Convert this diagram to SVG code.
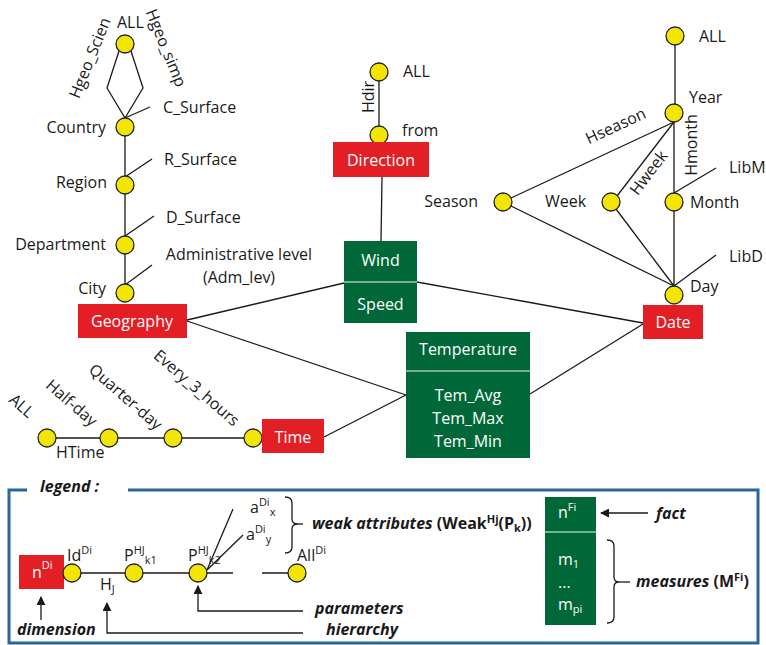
<svg xmlns="http://www.w3.org/2000/svg" width="766" height="645" viewBox="0 0 766 645">
<defs>
<style>
text{font-family:"Open Sans","Liberation Sans",sans-serif;font-size:16px;fill:#1a1a1a}
.w{fill:#fff}
.bi{font-weight:bold;font-style:italic}
.b{font-weight:bold}
.m{text-anchor:middle}
.e{text-anchor:end}
.c{fill:#f2e600;stroke:#222;stroke-width:1.3}
.ln{stroke:#1a1a1a;stroke-width:1.3;fill:none}
.dim{fill:#e31e25}
.fact{fill:#006838}
.div{stroke:#9cc7a8;stroke-width:1.5}
.sup{font-size:11px}
</style>
<marker id="ah" viewBox="0 0 10 10" refX="9" refY="5" markerWidth="9" markerHeight="9" markerUnits="userSpaceOnUse" orient="auto">
<path d="M0,0 L10,5 L0,10 z" fill="#1a1a1a"/>
</marker>
</defs>
<rect width="766" height="645" fill="#fff"/>

<g id="connectors" class="ln">
<polyline points="119,51 107,88 125,118 143,88 131,51"/>
<line x1="125" y1="118" x2="125" y2="293"/>
<line x1="125" y1="118" x2="150" y2="107"/>
<line x1="125" y1="177" x2="152" y2="159"/>
<line x1="125" y1="236" x2="154" y2="216"/>
<line x1="125" y1="285" x2="152" y2="265"/>
<line x1="379" y1="72" x2="379" y2="135"/>
<line x1="382" y1="177" x2="381" y2="241"/>
<line x1="675" y1="36" x2="675" y2="113"/>
<line x1="674" y1="122" x2="674" y2="295"/>
<line x1="674" y1="122" x2="511" y2="198"/>
<line x1="674" y1="122" x2="617" y2="196"/>
<line x1="511" y1="206" x2="674" y2="286"/>
<line x1="616" y1="209" x2="674" y2="286"/>
<line x1="674" y1="193" x2="716" y2="168"/>
<line x1="674" y1="286" x2="716" y2="255"/>
<line x1="47" y1="438" x2="253" y2="438"/>
<line x1="187" y1="320" x2="344" y2="283"/>
<line x1="417" y1="282" x2="643" y2="323"/>
<line x1="187" y1="321" x2="406" y2="395"/>
<line x1="324" y1="437" x2="406" y2="395"/>
<line x1="530" y1="394" x2="643" y2="324"/>
</g>

<g id="geo-hierarchy">
<circle class="c" cx="125" cy="44" r="9"/>
<circle class="c" cx="125" cy="127" r="9"/>
<circle class="c" cx="125" cy="185" r="9"/>
<circle class="c" cx="125" cy="245" r="9"/>
<circle class="c" cx="125" cy="293" r="9"/>
<text x="117" y="28">ALL</text>
<text class="m" transform="translate(95,60) rotate(-68)">Hgeo_Scien</text>
<text class="m" transform="translate(161,50) rotate(68)">Hgeo_simp</text>
<text class="e" x="106" y="133">Country</text>
<text class="e" x="107" y="188">Region</text>
<text class="e" x="106" y="250">Department</text>
<text class="e" x="106" y="294">City</text>
<text x="163" y="113">C_Surface</text>
<text x="164" y="165">R_Surface</text>
<text x="166" y="223">D_Surface</text>
<text class="m" x="239" y="260">Administrative level</text>
<text class="m" x="239" y="283">(Adm_lev)</text>
</g>

<g id="geography">
<rect class="dim" x="78" y="304" width="109" height="34"/>
<text class="w m" x="132" y="327">Geography</text>
</g>

<g id="direction-hierarchy">
<circle class="c" cx="379" cy="72" r="9"/>
<circle class="c" cx="379" cy="135" r="9"/>
<text x="403" y="77">ALL</text>
<text x="402" y="136">from</text>
<text class="m" transform="translate(374,97) rotate(-90)">Hdir</text>
</g>

<g id="direction">
<rect class="dim" x="333" y="142" width="96" height="35"/>
<text class="w m" x="381" y="166">Direction</text>
</g>

<g id="wind">
<rect class="fact" x="344" y="241" width="73" height="82"/>
<line class="div" x1="344" y1="282" x2="417" y2="282"/>
<text class="w m" x="380.5" y="266">Wind</text>
<text class="w m" x="380.5" y="310">Speed</text>
</g>

<g id="date-hierarchy">
<circle class="c" cx="675" cy="36" r="9"/>
<circle class="c" cx="674" cy="113" r="9"/>
<circle class="c" cx="503" cy="202" r="9"/>
<circle class="c" cx="611" cy="202" r="9"/>
<circle class="c" cx="674" cy="202" r="9"/>
<circle class="c" cx="674" cy="295" r="9"/>
<text x="699" y="42">ALL</text>
<text x="689" y="103">Year</text>
<text class="e" x="478" y="207">Season</text>
<text x="545" y="207">Week</text>
<text x="690" y="208">Month</text>
<text x="690" y="292">Day</text>
<text x="729" y="173">LibM</text>
<text x="729" y="262">LibD</text>
<text class="m" transform="translate(618,131) rotate(-25)">Hseason</text>
<text class="m" transform="translate(653,176) rotate(-53)">Hweek</text>
<text class="m" transform="translate(697,145) rotate(-90)">Hmonth</text>
</g>

<g id="date">
<rect class="dim" x="643" y="305" width="60" height="34"/>
<text class="w m" x="673" y="328">Date</text>
</g>

<g id="temperature">
<rect class="fact" x="406" y="332" width="124" height="126"/>
<line class="div" x1="406" y1="371" x2="530" y2="371"/>
<text class="w m" x="468" y="355">Temperature</text>
<text class="w m" x="468" y="401">Tem_Avg</text>
<text class="w m" x="468" y="424">Tem_Max</text>
<text class="w m" x="468" y="447">Tem_Min</text>
</g>

<g id="time-hierarchy">
<circle class="c" cx="47" cy="438" r="9"/>
<circle class="c" cx="109" cy="438" r="9"/>
<circle class="c" cx="173" cy="438" r="9"/>
<circle class="c" cx="253" cy="438" r="9"/>
<text x="56" y="458">HTime</text>
<text class="m" transform="translate(18,410) rotate(41)">ALL</text>
<text class="m" transform="translate(68,407) rotate(41)">Half-day</text>
<text class="m" transform="translate(122,401) rotate(41)">Quarter-day</text>
<text class="m" transform="translate(193,392) rotate(41)">Every_3_hours</text>
</g>

<g id="time">
<rect class="dim" x="262" y="419" width="62" height="34"/>
<text class="w m" x="293" y="443">Time</text>
</g>

<g id="legend">
<path d="M27,490 H9 V643 H758 V490 H128" fill="none" stroke="#2a6698" stroke-width="3"/>
<text class="bi" x="40" y="492">legend :</text>
<rect class="dim" x="19" y="555" width="45" height="34"/>
<text class="w" x="32" y="578">n<tspan class="sup w" dy="-9">Di</tspan></text>
<g class="ln">
<line x1="72" y1="573" x2="233" y2="573"/>
<line x1="262" y1="573" x2="297" y2="573"/>
<line x1="207" y1="570" x2="233" y2="509"/>
<line x1="207" y1="570" x2="243" y2="535"/>
<path d="M285,497 Q292,497 292,503 V519 Q292,524 298,524 Q292,524 292,529 V547 Q292,553 285,553"/>
<line x1="298" y1="524" x2="303" y2="524"/>
<line x1="41" y1="620" x2="41" y2="597" marker-end="url(#ah)"/>
<polyline points="303,611 198,611 198,586" marker-end="url(#ah)"/>
<polyline points="303,633 107,633 107,603" marker-end="url(#ah)"/>
<line x1="648" y1="513" x2="601" y2="513" marker-end="url(#ah)"/>
<path d="M607,540 Q614,540 614,546 V577 Q614,582 619,582 Q614,582 614,587 V617 Q614,623 607,623"/>
<line x1="619" y1="582" x2="630" y2="582"/>
</g>
<circle class="c" cx="72" cy="573" r="9"/>
<circle class="c" cx="134" cy="573" r="9"/>
<circle class="c" cx="198" cy="573" r="9"/>
<circle class="c" cx="297" cy="573" r="9"/>
<text x="67" y="561">Id<tspan class="sup" dy="-7">Di</tspan></text>
<text x="124" y="561">P<tspan class="sup" dy="-7">HJ</tspan><tspan class="sup" dy="10">k1</tspan></text>
<text x="188" y="561">P<tspan class="sup" dy="-7">HJ</tspan><tspan class="sup" dy="10">k2</tspan></text>
<text x="297" y="561">All<tspan class="sup" dy="-7">Di</tspan></text>
<text x="100" y="590">H<tspan class="sup" dy="3">J</tspan></text>
<text x="250" y="513">a<tspan class="sup" dy="-7">Di</tspan><tspan class="sup" dy="10">x</tspan></text>
<text x="246" y="540">a<tspan class="sup" dy="-7">Di</tspan><tspan class="sup" dy="10">y</tspan></text>
<text x="312" y="529"><tspan class="bi">weak attributes </tspan><tspan class="b">(Weak</tspan><tspan class="b sup" dy="-6">Hj</tspan><tspan class="b" dy="6">(P</tspan><tspan class="b sup" dy="3">k</tspan><tspan class="b" dy="-3">))</tspan></text>
<text class="bi" x="17" y="635">dimension</text>
<text class="bi" x="315" y="614">parameters</text>
<text class="bi" x="326" y="635">hierarchy</text>
<rect class="fact" x="545" y="497" width="51" height="128"/>
<line class="div" x1="545" y1="532" x2="596" y2="532"/>
<text class="w" x="558" y="518">n<tspan class="sup w" dy="-7">Fi</tspan></text>
<text class="w" x="558" y="565">m<tspan class="sup w" dy="3">1</tspan></text>
<text class="w" x="558" y="588">...</text>
<text class="w" x="558" y="610">m<tspan class="sup w" dy="3">pi</tspan></text>
<text class="bi" x="656" y="519">fact</text>
<text x="636" y="587"><tspan class="bi">measures </tspan><tspan class="b">(M</tspan><tspan class="b sup" dy="-6">Fi</tspan><tspan class="b" dy="6">)</tspan></text>
</g>
</svg>
